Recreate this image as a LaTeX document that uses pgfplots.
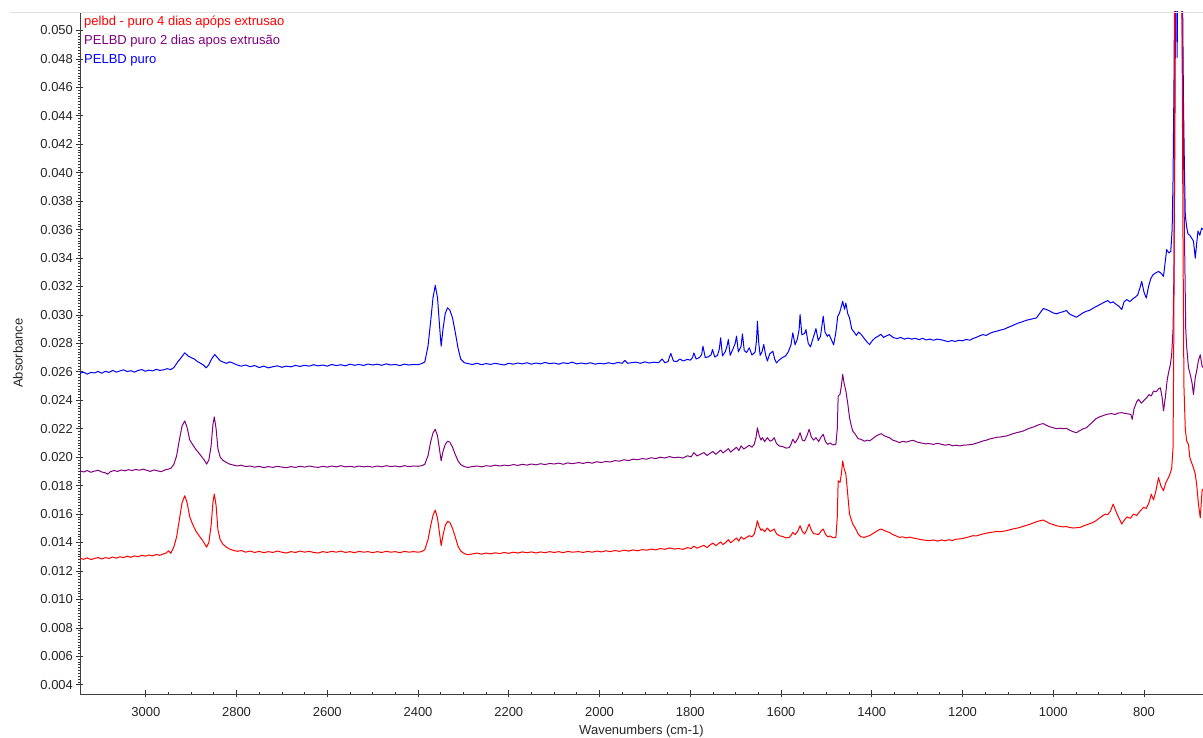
\documentclass[border=0pt]{standalone}
\usepackage{pgfplots}
\pgfplotsset{compat=1.18}
\usepackage{fontspec}
\setmainfont{Liberation Sans}
\definecolor{blueS}{RGB}{0,0,255}
\definecolor{purpleS}{RGB}{128,0,128}
\definecolor{redS}{RGB}{255,0,0}
\begin{document}
\begin{tikzpicture}
\useasboundingbox (-80pt,-44pt) rectangle (1123pt,694pt);
\begin{axis}[
 at={(0pt,0pt)}, anchor=south west,
 scale only axis, width=1123pt, height=682pt,
 x dir=reverse, xmin=670, xmax=3145, ymin=0.00335, ymax=0.0513,
 axis x line*=bottom, axis y line*=left,
 axis line style={-, black!75, line width=0.8pt},
 xtick={800,1000,1200,1400,1600,1800,2000,2200,2400,2600,2800,3000},
 minor x tick num=3,
 ytick={0.004,0.006,0.008,0.010,0.012,0.014,0.016,0.018,0.020,0.022,0.024,0.026,0.028,0.030,0.032,0.034,0.036,0.038,0.040,0.042,0.044,0.046,0.048,0.050},
 minor y tick num=9,
 scaled y ticks=false,
 tick align=center,
 major tick length=7pt, minor tick length=3pt,
 every tick/.style={black!80, line width=0.7pt},
 tick label style={font=\fontsize{13}{15}\selectfont, black!85},
 /pgf/number format/assume math mode=true,
 yticklabel style={/pgf/number format/.cd, fixed, fixed zerofill, precision=3},
 xticklabel style={yshift=-6pt, /pgf/number format/.cd, set thousands separator={}},
 xlabel={Wavenumbers (cm-1)}, ylabel={Absorbance},
 label style={font=\fontsize{13}{15}\selectfont, black!85},
 xlabel style={at={(axis description cs:0.5,0)}, anchor=center, yshift=-37pt},
 ylabel style={at={(axis description cs:0,0.5)}, anchor=center, yshift=62pt},
 every axis plot/.append style={line width=1pt, line join=round, mark=none},
]
\addplot[blueS] coordinates {(3145,0.02590)(3137,0.02598)(3129,0.02584)(3121,0.02596)(3113,0.02592)(3105,0.02603)(3097,0.02590)(3089,0.02604)(3081,0.02596)(3073,0.02610)(3065,0.02598)(3057,0.02606)(3049,0.02614)(3041,0.02602)(3033,0.02608)(3025,0.02598)(3017,0.02610)(3009,0.02616)(3001,0.02604)(2993,0.02612)(2985,0.02606)(2977,0.02618)(2969,0.02610)(2961,0.02614)(2953,0.02622)(2945,0.02616)(2938,0.02630)(2930,0.02668)(2922,0.02700)(2914,0.02734)(2907,0.02712)(2900,0.02700)(2893,0.02690)(2886,0.02672)(2879,0.02660)(2873,0.02648)(2867,0.02628)(2861,0.02650)(2855,0.02690)(2848,0.02722)(2842,0.02700)(2836,0.02678)(2829,0.02668)(2822,0.02660)(2815,0.02670)(2808,0.02662)(2800,0.02650)(2790,0.02640)(2780,0.02648)(2770,0.02636)(2760,0.02644)(2750,0.02630)(2740,0.02640)(2730,0.02628)(2720,0.02636)(2710,0.02642)(2700,0.02632)(2690,0.02640)(2680,0.02635)(2670,0.02645)(2660,0.02638)(2650,0.02646)(2640,0.02640)(2630,0.02650)(2620,0.02642)(2610,0.02648)(2600,0.02640)(2590,0.02652)(2580,0.02644)(2570,0.02650)(2560,0.02642)(2550,0.02654)(2540,0.02646)(2530,0.02652)(2520,0.02645)(2510,0.02655)(2500,0.02648)(2490,0.02654)(2480,0.02646)(2470,0.02656)(2460,0.02648)(2450,0.02652)(2440,0.02644)(2430,0.02654)(2420,0.02648)(2410,0.02652)(2400,0.02650)(2392,0.02658)(2385,0.02670)(2378,0.02780)(2372,0.02960)(2367,0.03120)(2362,0.03208)(2357,0.03120)(2352,0.02900)(2349,0.02780)(2345,0.02900)(2340,0.03010)(2335,0.03050)(2330,0.03035)(2324,0.02980)(2318,0.02880)(2312,0.02770)(2306,0.02690)(2298,0.02664)(2290,0.02658)(2280,0.02652)(2270,0.02660)(2260,0.02650)(2250,0.02658)(2240,0.02652)(2230,0.02660)(2220,0.02654)(2210,0.02648)(2200,0.02660)(2190,0.02654)(2180,0.02662)(2170,0.02656)(2160,0.02664)(2150,0.02654)(2140,0.02662)(2130,0.02656)(2120,0.02666)(2110,0.02658)(2100,0.02662)(2090,0.02654)(2080,0.02664)(2070,0.02658)(2060,0.02668)(2050,0.02656)(2040,0.02662)(2030,0.02656)(2020,0.02664)(2010,0.02654)(2000,0.02660)(1990,0.02656)(1980,0.02664)(1970,0.02656)(1960,0.02666)(1950,0.02660)(1944,0.02680)(1938,0.02660)(1930,0.02664)(1920,0.02668)(1910,0.02660)(1900,0.02670)(1890,0.02662)(1880,0.02668)(1870,0.02664)(1862,0.02690)(1856,0.02664)(1849,0.02672)(1843,0.02730)(1837,0.02676)(1830,0.02672)(1823,0.02690)(1815,0.02676)(1807,0.02688)(1800,0.02682)(1795,0.02700)(1792,0.02733)(1787,0.02690)(1780,0.02700)(1775,0.02720)(1772,0.02780)(1767,0.02700)(1760,0.02706)(1754,0.02720)(1751,0.02757)(1746,0.02704)(1740,0.02716)(1736,0.02760)(1733,0.02839)(1729,0.02712)(1723,0.02740)(1719,0.02780)(1716,0.02827)(1712,0.02716)(1706,0.02760)(1701,0.02800)(1698,0.02851)(1694,0.02740)(1688,0.02780)(1685,0.02867)(1681,0.02750)(1676,0.02736)(1670,0.02769)(1664,0.02718)(1657,0.02740)(1654,0.02820)(1652,0.02956)(1649,0.02800)(1646,0.02716)(1642,0.02740)(1638,0.02792)(1634,0.02720)(1630,0.02676)(1625,0.02726)(1618,0.02745)(1614,0.02690)(1610,0.02663)(1605,0.02680)(1598,0.02698)(1590,0.02712)(1584,0.02740)(1578,0.02790)(1574,0.02874)(1569,0.02790)(1564,0.02830)(1560,0.02900)(1558,0.03003)(1554,0.02860)(1548,0.02870)(1545,0.02897)(1540,0.02800)(1535,0.02776)(1530,0.02830)(1526,0.02870)(1523,0.02904)(1518,0.02820)(1513,0.02850)(1510,0.02920)(1507,0.02991)(1503,0.02880)(1498,0.02850)(1494,0.02862)(1489,0.02826)(1484,0.02790)(1479,0.02880)(1475,0.02990)(1471,0.03014)(1467,0.03060)(1464,0.03096)(1460,0.03040)(1457,0.03084)(1453,0.03010)(1449,0.02979)(1444,0.02900)(1439,0.02880)(1434,0.02856)(1429,0.02880)(1423,0.02862)(1416,0.02832)(1410,0.02808)(1405,0.02792)(1398,0.02822)(1392,0.02840)(1386,0.02850)(1380,0.02864)(1374,0.02842)(1368,0.02852)(1361,0.02862)(1352,0.02840)(1344,0.02834)(1336,0.02842)(1328,0.02830)(1320,0.02838)(1312,0.02830)(1304,0.02836)(1296,0.02826)(1288,0.02836)(1280,0.02824)(1272,0.02830)(1264,0.02822)(1256,0.02830)(1248,0.02826)(1240,0.02820)(1232,0.02812)(1224,0.02820)(1216,0.02814)(1208,0.02822)(1200,0.02818)(1192,0.02828)(1184,0.02822)(1177,0.02834)(1170,0.02842)(1163,0.02852)(1155,0.02862)(1148,0.02856)(1140,0.02870)(1132,0.02880)(1124,0.02886)(1116,0.02894)(1108,0.02900)(1100,0.02912)(1092,0.02922)(1084,0.02934)(1076,0.02944)(1068,0.02952)(1060,0.02962)(1052,0.02968)(1044,0.02974)(1037,0.02979)(1030,0.03010)(1022,0.03045)(1015,0.03038)(1008,0.03028)(1000,0.03014)(993,0.03008)(986,0.03016)(979,0.03022)(971,0.03031)(964,0.03006)(956,0.02994)(949,0.02984)(942,0.02998)(935,0.03014)(927,0.03026)(920,0.03032)(913,0.03046)(906,0.03058)(899,0.03070)(892,0.03082)(885,0.03094)(880,0.03101)(874,0.03084)(868,0.03092)(862,0.03076)(855,0.03060)(849,0.03038)(844,0.03092)(838,0.03108)(831,0.03094)(825,0.03112)(819,0.03126)(814,0.03140)(809,0.03190)(805,0.03236)(800,0.03160)(795,0.03119)(790,0.03200)(785,0.03256)(780,0.03283)(774,0.03296)(768,0.03306)(762,0.03292)(757,0.03271)(753,0.03380)(750,0.03459)(745,0.03436)(741,0.03447)(738,0.03600)(736,0.03950)(734,0.04600)(732,0.05600)(729,0.05600)(727,0.04810)(725,0.05600)(720,0.05600)(716,0.05600)(713,0.04500)(711,0.04050)(709,0.03700)(706,0.03620)(703,0.03570)(699,0.03560)(695,0.03540)(691,0.03520)(687,0.03400)(684,0.03500)(681,0.03590)(677,0.03560)(673,0.03610)(669,0.03600)};
\addplot[purpleS] coordinates {(3145,0.01904)(3137,0.01896)(3129,0.01906)(3121,0.01894)(3113,0.01902)(3105,0.01908)(3097,0.01896)(3089,0.01890)(3084,0.01880)(3078,0.01898)(3070,0.01906)(3062,0.01900)(3054,0.01910)(3046,0.01904)(3038,0.01912)(3030,0.01906)(3022,0.01914)(3014,0.01908)(3006,0.01916)(2998,0.01908)(2990,0.01900)(2982,0.01910)(2974,0.01904)(2966,0.01898)(2958,0.01910)(2950,0.01916)(2944,0.01924)(2938,0.01950)(2932,0.02010)(2926,0.02120)(2920,0.02220)(2914,0.02255)(2909,0.02210)(2903,0.02120)(2897,0.02090)(2890,0.02056)(2883,0.02030)(2876,0.02000)(2870,0.01975)(2866,0.01951)(2861,0.01980)(2856,0.02080)(2852,0.02230)(2849,0.02283)(2845,0.02200)(2841,0.02060)(2836,0.02000)(2830,0.01978)(2822,0.01962)(2814,0.01950)(2806,0.01944)(2798,0.01938)(2790,0.01944)(2780,0.01934)(2770,0.01938)(2760,0.01930)(2750,0.01936)(2740,0.01926)(2730,0.01934)(2720,0.01928)(2710,0.01936)(2700,0.01930)(2690,0.01926)(2680,0.01934)(2670,0.01928)(2660,0.01936)(2650,0.01930)(2640,0.01938)(2630,0.01932)(2620,0.01928)(2610,0.01936)(2600,0.01930)(2590,0.01938)(2580,0.01932)(2570,0.01940)(2560,0.01932)(2550,0.01936)(2540,0.01930)(2530,0.01938)(2520,0.01932)(2510,0.01936)(2500,0.01930)(2490,0.01938)(2480,0.01932)(2470,0.01940)(2460,0.01934)(2450,0.01938)(2440,0.01932)(2430,0.01940)(2420,0.01934)(2410,0.01938)(2400,0.01936)(2392,0.01940)(2385,0.01950)(2378,0.02010)(2372,0.02110)(2367,0.02170)(2362,0.02196)(2357,0.02150)(2352,0.02040)(2349,0.01974)(2345,0.02040)(2340,0.02090)(2335,0.02112)(2330,0.02106)(2324,0.02070)(2318,0.02020)(2312,0.01975)(2306,0.01948)(2298,0.01934)(2290,0.01928)(2280,0.01934)(2270,0.01938)(2260,0.01932)(2250,0.01940)(2240,0.01936)(2230,0.01944)(2220,0.01938)(2210,0.01944)(2200,0.01940)(2190,0.01948)(2180,0.01942)(2170,0.01950)(2160,0.01944)(2150,0.01952)(2140,0.01946)(2130,0.01954)(2120,0.01948)(2110,0.01956)(2100,0.01952)(2090,0.01958)(2080,0.01950)(2070,0.01960)(2060,0.01954)(2046,0.01962)(2036,0.01956)(2026,0.01964)(2016,0.01958)(2006,0.01968)(1996,0.01962)(1986,0.01970)(1976,0.01966)(1966,0.01976)(1956,0.01972)(1946,0.01982)(1936,0.01976)(1926,0.01986)(1916,0.01982)(1906,0.01990)(1896,0.01986)(1886,0.01996)(1876,0.01990)(1866,0.02000)(1856,0.01994)(1846,0.02004)(1836,0.01996)(1826,0.02000)(1816,0.01994)(1806,0.02010)(1798,0.02002)(1792,0.02032)(1785,0.02008)(1778,0.02020)(1770,0.02032)(1763,0.02012)(1756,0.02028)(1750,0.02040)(1744,0.02020)(1738,0.02036)(1733,0.02050)(1728,0.02030)(1722,0.02044)(1716,0.02060)(1711,0.02036)(1705,0.02052)(1698,0.02070)(1693,0.02046)(1688,0.02079)(1682,0.02058)(1676,0.02070)(1670,0.02084)(1664,0.02070)(1659,0.02091)(1655,0.02140)(1652,0.02207)(1648,0.02150)(1644,0.02120)(1641,0.02137)(1636,0.02110)(1630,0.02137)(1624,0.02112)(1619,0.02120)(1615,0.02137)(1610,0.02096)(1604,0.02079)(1596,0.02074)(1589,0.02064)(1582,0.02067)(1578,0.02090)(1574,0.02126)(1569,0.02100)(1563,0.02130)(1558,0.02172)(1553,0.02120)(1548,0.02114)(1543,0.02150)(1538,0.02196)(1533,0.02140)(1528,0.02120)(1523,0.02137)(1517,0.02110)(1512,0.02140)(1507,0.02161)(1502,0.02110)(1497,0.02090)(1492,0.02100)(1486,0.02086)(1479,0.02091)(1476,0.02200)(1474,0.02430)(1470,0.02442)(1467,0.02500)(1464,0.02582)(1461,0.02520)(1457,0.02465)(1453,0.02380)(1449,0.02278)(1445,0.02220)(1442,0.02184)(1436,0.02160)(1430,0.02130)(1424,0.02126)(1416,0.02112)(1410,0.02120)(1405,0.02114)(1398,0.02130)(1390,0.02150)(1384,0.02160)(1379,0.02165)(1372,0.02150)(1366,0.02142)(1361,0.02137)(1354,0.02120)(1346,0.02112)(1339,0.02102)(1332,0.02112)(1324,0.02106)(1316,0.02114)(1309,0.02119)(1300,0.02106)(1291,0.02100)(1282,0.02094)(1273,0.02095)(1264,0.02090)(1255,0.02098)(1246,0.02090)(1238,0.02084)(1230,0.02090)(1222,0.02080)(1214,0.02084)(1206,0.02079)(1198,0.02084)(1190,0.02086)(1183,0.02088)(1177,0.02091)(1170,0.02098)(1162,0.02106)(1155,0.02114)(1147,0.02120)(1140,0.02128)(1132,0.02134)(1124,0.02140)(1116,0.02142)(1110,0.02146)(1103,0.02149)(1095,0.02158)(1088,0.02166)(1081,0.02172)(1073,0.02178)(1066,0.02184)(1058,0.02196)(1050,0.02206)(1042,0.02214)(1035,0.02224)(1028,0.02232)(1022,0.02236)(1015,0.02224)(1008,0.02214)(1000,0.02207)(993,0.02200)(986,0.02204)(979,0.02200)(971,0.02203)(964,0.02190)(957,0.02180)(949,0.02172)(942,0.02186)(935,0.02198)(927,0.02207)(920,0.02228)(913,0.02248)(906,0.02270)(899,0.02282)(892,0.02290)(885,0.02298)(878,0.02304)(871,0.02306)(864,0.02300)(857,0.02310)(849,0.02313)(842,0.02308)(835,0.02304)(829,0.02301)(826,0.02266)(822,0.02340)(816,0.02390)(812,0.02407)(806,0.02380)(800,0.02400)(794,0.02418)(789,0.02440)(784,0.02430)(779,0.02465)(773,0.02460)(768,0.02480)(764,0.02488)(760,0.02420)(757,0.02325)(753,0.02420)(749,0.02540)(746,0.02593)(742,0.02650)(739,0.02722)(736,0.02900)(734,0.03300)(732,0.04200)(730,0.05600)(718,0.05600)(714,0.04500)(711,0.03600)(708,0.02900)(706,0.02780)(702,0.02630)(698,0.02580)(694,0.02520)(691,0.02440)(687,0.02560)(684,0.02605)(680,0.02680)(676,0.02720)(672,0.02640)(669,0.02628)};
\addplot[redS] coordinates {(3145,0.01289)(3137,0.01282)(3129,0.01292)(3121,0.01280)(3113,0.01288)(3105,0.01294)(3097,0.01284)(3089,0.01294)(3081,0.01288)(3073,0.01298)(3065,0.01290)(3057,0.01300)(3049,0.01294)(3041,0.01304)(3033,0.01296)(3025,0.01306)(3017,0.01300)(3009,0.01310)(3001,0.01304)(2993,0.01312)(2985,0.01306)(2977,0.01316)(2969,0.01310)(2961,0.01320)(2955,0.01326)(2950,0.01342)(2945,0.01324)(2938,0.01370)(2932,0.01440)(2926,0.01560)(2920,0.01680)(2914,0.01729)(2909,0.01680)(2903,0.01580)(2897,0.01530)(2890,0.01483)(2883,0.01450)(2876,0.01420)(2870,0.01390)(2866,0.01367)(2861,0.01400)(2856,0.01520)(2852,0.01680)(2849,0.01741)(2845,0.01660)(2841,0.01490)(2836,0.01420)(2830,0.01388)(2822,0.01366)(2814,0.01352)(2806,0.01344)(2798,0.01338)(2790,0.01344)(2780,0.01332)(2770,0.01340)(2760,0.01330)(2750,0.01338)(2740,0.01328)(2730,0.01336)(2720,0.01330)(2710,0.01340)(2700,0.01332)(2690,0.01326)(2680,0.01336)(2670,0.01330)(2660,0.01340)(2650,0.01332)(2640,0.01338)(2630,0.01330)(2620,0.01326)(2610,0.01336)(2600,0.01330)(2590,0.01338)(2580,0.01332)(2570,0.01340)(2560,0.01330)(2550,0.01336)(2540,0.01328)(2530,0.01338)(2520,0.01332)(2510,0.01336)(2500,0.01328)(2490,0.01336)(2480,0.01330)(2470,0.01338)(2460,0.01332)(2450,0.01336)(2440,0.01328)(2430,0.01338)(2420,0.01332)(2410,0.01336)(2400,0.01332)(2392,0.01336)(2385,0.01350)(2378,0.01420)(2372,0.01520)(2367,0.01590)(2362,0.01628)(2357,0.01570)(2352,0.01450)(2349,0.01378)(2345,0.01450)(2340,0.01520)(2335,0.01548)(2330,0.01542)(2324,0.01500)(2318,0.01440)(2312,0.01375)(2306,0.01340)(2298,0.01322)(2290,0.01314)(2280,0.01320)(2270,0.01326)(2260,0.01318)(2250,0.01326)(2240,0.01320)(2230,0.01328)(2220,0.01322)(2210,0.01330)(2200,0.01324)(2190,0.01332)(2180,0.01326)(2170,0.01334)(2160,0.01328)(2150,0.01334)(2140,0.01326)(2130,0.01334)(2120,0.01328)(2110,0.01336)(2100,0.01330)(2090,0.01336)(2080,0.01328)(2070,0.01338)(2060,0.01332)(2046,0.01336)(2036,0.01330)(2026,0.01338)(2016,0.01332)(2006,0.01340)(1996,0.01334)(1986,0.01342)(1976,0.01336)(1966,0.01344)(1956,0.01338)(1946,0.01346)(1936,0.01340)(1926,0.01348)(1916,0.01342)(1906,0.01350)(1896,0.01346)(1886,0.01354)(1876,0.01348)(1866,0.01358)(1856,0.01352)(1846,0.01362)(1836,0.01354)(1826,0.01358)(1816,0.01352)(1806,0.01364)(1798,0.01358)(1792,0.01374)(1785,0.01360)(1778,0.01370)(1770,0.01380)(1763,0.01364)(1756,0.01384)(1750,0.01396)(1744,0.01378)(1738,0.01392)(1733,0.01404)(1728,0.01386)(1722,0.01400)(1716,0.01420)(1711,0.01398)(1705,0.01414)(1698,0.01432)(1693,0.01410)(1688,0.01440)(1682,0.01424)(1676,0.01436)(1670,0.01448)(1664,0.01440)(1659,0.01460)(1655,0.01510)(1652,0.01553)(1648,0.01510)(1644,0.01486)(1641,0.01495)(1636,0.01476)(1630,0.01502)(1624,0.01478)(1619,0.01486)(1615,0.01495)(1610,0.01462)(1604,0.01448)(1596,0.01442)(1589,0.01432)(1582,0.01436)(1578,0.01450)(1574,0.01471)(1569,0.01456)(1563,0.01480)(1558,0.01518)(1553,0.01478)(1548,0.01460)(1543,0.01490)(1538,0.01530)(1533,0.01486)(1528,0.01462)(1523,0.01460)(1517,0.01456)(1512,0.01480)(1507,0.01495)(1502,0.01458)(1497,0.01440)(1492,0.01446)(1486,0.01434)(1479,0.01436)(1476,0.01580)(1474,0.01834)(1470,0.01822)(1467,0.01880)(1464,0.01974)(1461,0.01920)(1457,0.01880)(1453,0.01740)(1449,0.01600)(1445,0.01560)(1442,0.01530)(1436,0.01500)(1430,0.01460)(1424,0.01440)(1416,0.01436)(1410,0.01444)(1405,0.01448)(1398,0.01462)(1390,0.01478)(1384,0.01490)(1379,0.01495)(1372,0.01484)(1366,0.01476)(1361,0.01471)(1354,0.01456)(1346,0.01446)(1339,0.01436)(1332,0.01440)(1324,0.01432)(1316,0.01438)(1309,0.01432)(1300,0.01426)(1291,0.01420)(1282,0.01416)(1273,0.01413)(1264,0.01418)(1255,0.01410)(1246,0.01418)(1238,0.01412)(1230,0.01420)(1222,0.01414)(1214,0.01424)(1206,0.01425)(1198,0.01430)(1190,0.01436)(1183,0.01442)(1177,0.01448)(1170,0.01446)(1162,0.01454)(1155,0.01460)(1147,0.01466)(1140,0.01470)(1132,0.01474)(1124,0.01478)(1116,0.01476)(1110,0.01480)(1103,0.01483)(1095,0.01490)(1088,0.01496)(1081,0.01500)(1074,0.01506)(1066,0.01514)(1058,0.01522)(1050,0.01530)(1042,0.01540)(1035,0.01548)(1028,0.01554)(1022,0.01558)(1015,0.01546)(1008,0.01534)(1000,0.01526)(993,0.01518)(986,0.01514)(979,0.01510)(971,0.01512)(964,0.01506)(957,0.01502)(949,0.01504)(941,0.01506)(934,0.01516)(927,0.01524)(920,0.01532)(913,0.01540)(906,0.01553)(899,0.01570)(892,0.01586)(885,0.01600)(880,0.01596)(874,0.01620)(868,0.01670)(862,0.01620)(855,0.01570)(849,0.01530)(843,0.01560)(837,0.01580)(830,0.01570)(823,0.01600)(816,0.01590)(809,0.01620)(801,0.01647)(795,0.01640)(789,0.01680)(784,0.01740)(779,0.01700)(774,0.01760)(768,0.01857)(763,0.01800)(757,0.01764)(752,0.01820)(747,0.01850)(743,0.01880)(739,0.01920)(736,0.02067)(734,0.03000)(732,0.05600)(717,0.05600)(714,0.03500)(712,0.02500)(709,0.02200)(706,0.02114)(702,0.02090)(699,0.01997)(695,0.01960)(691,0.01927)(687,0.01880)(684,0.01810)(680,0.01670)(676,0.01574)(672,0.01764)(669,0.01780)};
\node[anchor=west, inner sep=0pt, text=redS, font=\fontsize{13}{15}\selectfont] at (axis description cs:0.0036,0.9853) {pelbd - puro 4 dias apóps extrusao};
\node[anchor=west, inner sep=0pt, text=purpleS, font=\fontsize{13}{15}\selectfont] at (axis description cs:0.0036,0.9575) {PELBD puro 2 dias apos extrusão};
\node[anchor=west, inner sep=0pt, text=blueS, font=\fontsize{13}{15}\selectfont] at (axis description cs:0.0036,0.9296) {PELBD puro};
\end{axis}
\draw[black!12, line width=0.5pt] (-70pt,682pt) -- (1123pt,682pt);
\end{tikzpicture}
\end{document}
